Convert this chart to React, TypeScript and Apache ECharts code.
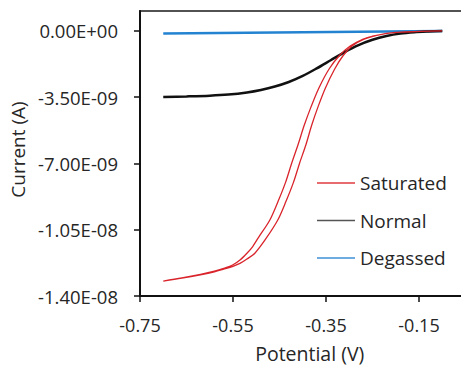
import React, { useEffect, useRef } from "react";
import * as echarts from "echarts";

// Potential in V, current in nA (1e-9 A)
const potentialTicks = [-0.75, -0.55, -0.35, -0.15];
const currentTicks = [-14, -10.5, -7, -3.5, 0];

const degassedE = [-0.7, -0.4, -0.1];
const degassedI = [-0.14, -0.07, 0.0];

const normalE = [-0.7, -0.65, -0.6, -0.56, -0.52, -0.49, -0.46, -0.43, -0.4, -0.37, -0.34, -0.31, -0.28, -0.25, -0.22, -0.19, -0.16, -0.13, -0.1];
const normalI = [-3.49, -3.46, -3.42, -3.36, -3.25, -3.12, -2.94, -2.7, -2.38, -1.98, -1.55, -1.12, -0.75, -0.47, -0.27, -0.14, -0.07, -0.03, 0.0];

// Saturated: full CV loop (cathodic sweep down the right branch, return up the left branch)
const saturatedE = [
  -0.1, -0.15, -0.19, -0.23, -0.268, -0.294, -0.313, -0.331, -0.351, -0.367, -0.381, -0.393, -0.407, -0.42, -0.436, -0.454, -0.48, -0.503, -0.52, -0.535, -0.55, -0.57, -0.59, -0.62, -0.66, -0.7,
  -0.66, -0.62, -0.59, -0.57, -0.55, -0.535, -0.52, -0.508, -0.495, -0.471, -0.453, -0.437, -0.424, -0.41, -0.397, -0.382, -0.365, -0.343, -0.321, -0.298, -0.27, -0.25, -0.23, -0.21, -0.19, -0.15, -0.1,
];
const saturatedI = [
  0.0, -0.03, -0.07, -0.18, -0.43, -0.8, -1.3, -2.0, -3.0, -4.0, -5.0, -6.0, -7.0, -8.0, -9.0, -10.0, -11.0, -11.74, -12.05, -12.28, -12.43, -12.58, -12.72, -12.88, -13.06, -13.21,
  -13.05, -12.86, -12.69, -12.54, -12.35, -12.1, -11.74, -11.4, -10.9, -10.0, -9.0, -8.0, -7.0, -6.0, -5.0, -4.0, -3.0, -2.0, -1.3, -0.8, -0.43, -0.28, -0.18, -0.11, -0.07, -0.03, 0.0,
];

const seriesNames = ["Saturated", "Normal", "Degassed"];

const pair = (xs: number[], ys: number[]) => xs.map((x, i) => [x, ys[i]]);

const FONT = "Open Sans";
const TEXT = "#262626";

const fmtSci = (nA: number) => {
  const v = nA * 1e-9;
  const s = v.toExponential(2);
  const [m, e] = s.split("e");
  const sign = e[0] === "-" ? "-" : "+";
  const digits = e.replace(/^[+-]/, "").padStart(2, "0");
  return `${m}E${sign}${digits}`;
};

export default function App() {
  const ref = useRef<HTMLDivElement>(null);
  useEffect(() => {
    if (!ref.current) return;
    const chart = echarts.init(ref.current, undefined, { renderer: "svg" });
    chart.setOption({
      animation: false,
      backgroundColor: "#ffffff",
      grid: {
        left: 140,
        top: 11,
        right: -4.5,
        bottom: 72,
        outerBoundsMode: "none",
        containLabel: false,
        show: true,
        borderColor: "#1a1a1a",
        borderWidth: 1.5,
        backgroundColor: "transparent",
      },
      legend: {
        data: seriesNames,
        orient: "vertical",
        left: 317,
        top: 173,
        padding: 0,
        icon: "rect",
        itemWidth: 38,
        itemHeight: 1.6,
        itemGap: 17.5,
        textStyle: { fontFamily: FONT, fontSize: 19, color: TEXT, lineHeight: 20 },
      },
      xAxis: {
        type: "value",
        min: -0.75,
        max: -0.05,
        name: "Potential (V)",
        nameLocation: "middle",
        nameGap: 47,
        nameTextStyle: { fontFamily: FONT, fontSize: 19.5, lineHeight: 20, color: TEXT, padding: [0, 0, 0, 14] },
        axisLine: { show: true, onZero: false, lineStyle: { color: "#111", width: 2 } },
        axisTick: { show: true, length: 6, lineStyle: { color: "#111", width: 1.5 }, customValues: potentialTicks },
        axisLabel: {
          customValues: potentialTicks,
          margin: 20,
          fontFamily: FONT,
          fontSize: 18,
          color: TEXT,
          formatter: (v: number) => v.toFixed(2),
        },
        splitLine: { show: false },
      },
      yAxis: {
        type: "value",
        min: -14,
        max: 1.05,
        name: "Current (A)",
        nameLocation: "middle",
        nameGap: 112,
        nameTextStyle: { fontFamily: FONT, fontSize: 19, color: TEXT, padding: [0, 0, 0, 8] },
        axisLine: { show: true, onZero: false, lineStyle: { color: "#111", width: 2 } },
        axisTick: { show: true, length: 6, lineStyle: { color: "#111", width: 1.5 }, customValues: currentTicks },
        axisLabel: {
          customValues: currentTicks,
          margin: 22,
          fontFamily: FONT,
          fontSize: 18.5,
          color: TEXT,
          formatter: (v: number) => fmtSci(v),
        },
        splitLine: { show: false },
      },
      series: [
        {
          name: "Degassed",
          type: "line",
          data: pair(degassedE, degassedI),
          showSymbol: false,
          symbol: "none",
          lineStyle: { color: "#2383d1", width: 2.5 },
          itemStyle: { color: "#3c8fd6" },
        },
        {
          name: "Normal",
          type: "line",
          data: pair(normalE, normalI),
          showSymbol: false,
          symbol: "none",
          smooth: 0.3,
          lineStyle: { color: "#111111", width: 2.5 },
          itemStyle: { color: "#555555" },
        },
        {
          name: "Saturated",
          type: "line",
          data: pair(saturatedE, saturatedI),
          showSymbol: false,
          symbol: "none",
          smooth: 0.3,
          lineStyle: { color: "#d9242b", width: 1.3 },
          itemStyle: { color: "#de3b3f" },
        },
      ],
    });
    return () => chart.dispose();
  }, []);
  return (
    <div
      ref={ref}
      style={{ position: "fixed", left: 0, top: 0, width: 461, height: 368, overflow: "hidden" }}
    />
  );
}
